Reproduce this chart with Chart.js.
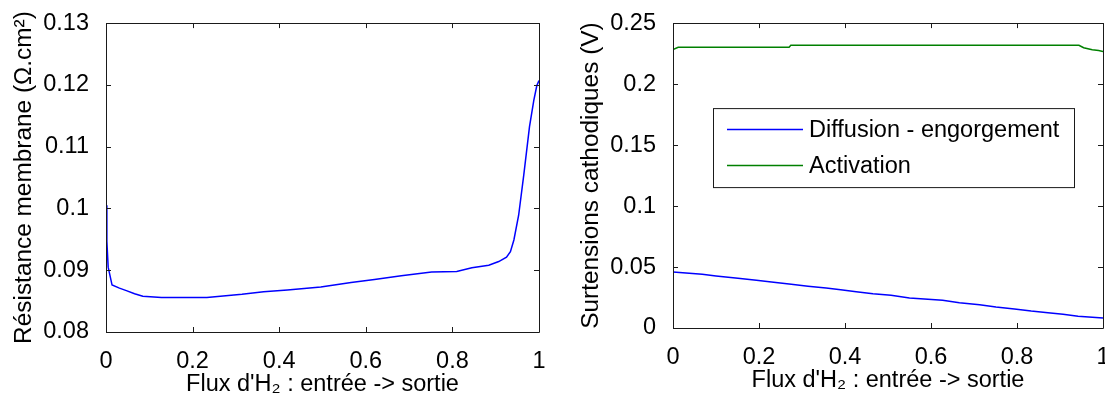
<!DOCTYPE html>
<html>
<head>
<meta charset="utf-8">
<script src="https://cdn.jsdelivr.net/npm/chart.js@4"></script>
<style>
  html, body { margin: 0; padding: 0; background: #fff; overflow: hidden; width: 1105px; height: 398px; }
  canvas { position: absolute; top: 0; }
  #left { left: 0; }
  #right { left: 560px; }
</style>
</head>
<body>
<canvas id="left" width="560" height="398"></canvas>
<canvas id="right" width="575" height="398"></canvas>
<script>
// valeurs
const xTicks = [0, 0.2, 0.4, 0.6, 0.8, 1];
const resTicks = [0.08, 0.09, 0.1, 0.11, 0.12, 0.13];
const survTicks = [0, 0.05, 0.1, 0.15, 0.2, 0.25];

const resX = [0, 0.002, 0.005, 0.014, 0.031, 0.047, 0.066, 0.085, 0.128, 0.2, 0.233, 0.314, 0.364,
  0.419, 0.496, 0.566, 0.62, 0.682, 0.752, 0.81, 0.845, 0.884, 0.907, 0.925, 0.934, 0.942, 0.953,
  0.965, 0.978, 0.988, 0.995, 1];
const resY = [0.1005, 0.0947, 0.0905, 0.0876, 0.0871, 0.0867, 0.0862, 0.0858, 0.0856, 0.0856, 0.0856,
  0.0861, 0.0865, 0.0868, 0.0873, 0.088, 0.0885, 0.0891, 0.0897, 0.0898, 0.0904, 0.0908, 0.0914,
  0.0921, 0.093, 0.0949, 0.0989, 0.1055, 0.1132, 0.1175, 0.1199, 0.1207];

const diffX = [0, 0.068, 0.1, 0.151, 0.194, 0.229, 0.275, 0.314, 0.356, 0.39, 0.426, 0.465, 0.507,
  0.55, 0.627, 0.666, 0.713, 0.751, 0.794, 0.833, 0.872, 0.907, 0.942, 1];
const diffY = [0.0459, 0.044, 0.0426, 0.0407, 0.0391, 0.0377, 0.0358, 0.0342, 0.0328, 0.0314, 0.0298,
  0.0281, 0.0268, 0.0246, 0.0227, 0.0208, 0.0191, 0.0172, 0.0156, 0.0139, 0.0126, 0.0112, 0.0096, 0.0082];

const actX = [0, 0.012, 0.27, 0.274, 0.944, 0.955, 0.975, 0.99, 1];
const actY = [0.2284, 0.2302, 0.2302, 0.2318, 0.2318, 0.2298, 0.2282, 0.2276, 0.2268];

const seriesNames = ['Diffusion - engorgement', 'Activation'];

const FONT = "'Liberation Sans', Arial, sans-serif";

function pts(xs, ys) {
  return xs.map((x, i) => ({ x: x, y: ys[i] }));
}

// cadre + graduations vers l'intérieur (style matlab)
const boxTicks = {
  id: 'boxTicks',
  afterDatasetsDraw(chart) {
    const { ctx, chartArea: a, scales } = chart;
    const len = 5;
    ctx.save();
    ctx.strokeStyle = '#1a1a1a';
    ctx.lineWidth = 1;
    ctx.beginPath();
    scales.x.ticks.forEach(t => {
      const px = Math.round(scales.x.getPixelForValue(t.value)) + 0.5;
      ctx.moveTo(px, a.bottom); ctx.lineTo(px, a.bottom - len);
      ctx.moveTo(px, a.top); ctx.lineTo(px, a.top + len);
    });
    scales.y.ticks.forEach(t => {
      const py = Math.round(scales.y.getPixelForValue(t.value)) + 0.5;
      ctx.moveTo(a.left, py); ctx.lineTo(a.left + len, py);
      ctx.moveTo(a.right, py); ctx.lineTo(a.right - len, py);
    });
    ctx.rect(Math.round(a.left) + 0.5, Math.round(a.top) + 0.5,
      Math.round(a.right - a.left), Math.round(a.bottom - a.top));
    ctx.stroke();
    ctx.restore();
  }
};

// légende encadrée dans la zone du tracé
const boxLegend = {
  id: 'boxLegend',
  afterDraw(chart, args, opts) {
    if (!opts.show) return;
    const { ctx, chartArea: a } = chart;
    const bx = a.left + 40, by = a.top + 85, bw = 361, bh = 79;
    ctx.save();
    ctx.fillStyle = '#fff';
    ctx.fillRect(bx, by, bw, bh);
    ctx.strokeStyle = '#1a1a1a';
    ctx.lineWidth = 1;
    ctx.strokeRect(bx + 0.5, by + 0.5, bw, bh);
    ctx.font = '23.5px ' + FONT;
    ctx.textBaseline = 'middle';
    ctx.fillStyle = '#000';
    chart.data.datasets.forEach((ds, i) => {
      const y = by + 21 + i * 36 + 0.5;
      ctx.strokeStyle = ds.borderColor;
      ctx.lineWidth = 1.5;
      ctx.beginPath();
      ctx.moveTo(bx + 14, y);
      ctx.lineTo(bx + 90, y);
      ctx.stroke();
      ctx.fillText(ds.label, bx + 96, y + 1);
    });
    ctx.restore();
  }
};

function axes(yTicks, yMin, yMax, yTitle, yWidth, xHeight, yTitlePad, xTitlePad) {
  const tickFont = { family: FONT, size: 23.5 };
  return {
    x: {
      type: 'linear', min: 0, max: 1,
      afterBuildTicks: s => { s.ticks = xTicks.map(v => ({ value: v })); },
      afterFit: s => { s.height = xHeight; },
      grid: { display: false }, border: { display: false },
      ticks: { color: '#000', font: tickFont, padding: 7, maxRotation: 0, autoSkip: false, callback: v => String(v) },
      title: { display: true, text: "Flux d'H\u2082 : entrée -> sortie", color: '#000', font: tickFont, padding: { top: 0, bottom: xTitlePad } }
    },
    y: {
      type: 'linear', min: yMin, max: yMax,
      afterBuildTicks: s => { s.ticks = yTicks.map(v => ({ value: v })); },
      afterFit: s => { s.width = yWidth; },
      grid: { display: false }, border: { display: false },
      ticks: { color: '#000', font: tickFont, padding: 9, autoSkip: false, callback: v => String(v) },
      title: { display: true, text: yTitle, color: '#000', font: { family: FONT, size: 24.4 }, padding: { top: yTitlePad, bottom: 0 } }
    }
  };
}

new Chart(document.getElementById('left'), {
  type: 'line',
  data: {
    datasets: [{
      label: 'Résistance membrane',
      data: pts(resX, resY),
      borderColor: '#0000ff', borderWidth: 1.5, pointRadius: 0, tension: 0
    }]
  },
  options: {
    responsive: false, animation: false, devicePixelRatio: 1,
    layout: { padding: { top: 23, right: 21, bottom: 0, left: 0 } },
    plugins: { legend: { display: false }, tooltip: { enabled: false }, boxLegend: { show: false } },
    scales: axes(resTicks, 0.08, 0.13, 'Résistance membrane (\u03A9.cm\u00B2)', 106, 66, 10, -1)
  },
  plugins: [boxTicks, boxLegend]
});

new Chart(document.getElementById('right'), {
  type: 'line',
  data: {
    datasets: [{
      label: seriesNames[0],
      data: pts(diffX, diffY),
      borderColor: '#0000ff', borderWidth: 1.5, pointRadius: 0, tension: 0
    }, {
      label: seriesNames[1],
      data: pts(actX, actY),
      borderColor: '#008000', borderWidth: 1.5, pointRadius: 0, tension: 0
    }]
  },
  options: {
    responsive: false, animation: false, devicePixelRatio: 1,
    layout: { padding: { top: 23, right: 32, bottom: 0, left: 0 } },
    plugins: { legend: { display: false }, tooltip: { enabled: false }, boxLegend: { show: true } },
    scales: axes(survTicks, 0, 0.25, 'Surtensions cathodiques (V)', 113, 70, 17, 3)
  },
  plugins: [boxTicks, boxLegend]
});
</script>
</body>
</html>
